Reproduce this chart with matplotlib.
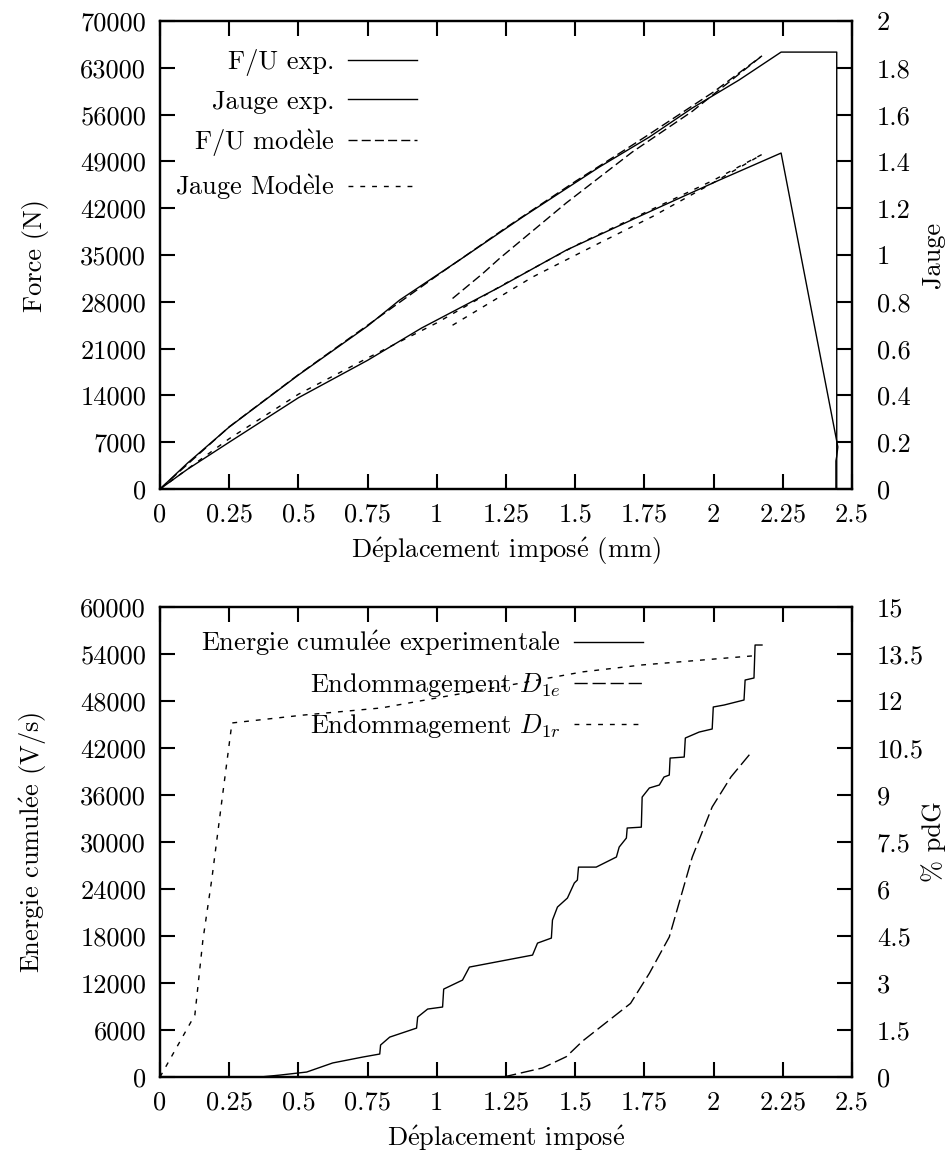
import matplotlib.pyplot as plt
from matplotlib.ticker import FuncFormatter

# --- Essai haut : force et jauge en fonction du deplacement impose ---
fu_exp_x = [0, 0.1, 0.25, 0.5, 0.75, 0.866, 1.082, 1.31, 1.587, 1.768, 1.923, 2.092, 2.244, 2.445, 2.445]
fu_exp_y = [0, 3900, 9270, 17050, 24380, 28270, 34250, 40680, 48160, 52650, 56990, 61180, 65360, 65360, 0]

jauge_exp_x = [0, 0.1, 0.25, 0.5, 0.75, 0.945, 1.227, 1.468, 1.757, 2.02, 2.244, 2.449, 2.445, 2.442, 2.442]
jauge_exp_y = [0, 0.085, 0.20, 0.39, 0.55, 0.688, 0.863, 1.021, 1.179, 1.32, 1.436, 0.18, 0.14, 0.12, 0]

# modele : deux branches (chargement initial, puis rechargement apres 1.06 mm)
fu_mod1_x = [0, 0.25, 0.5, 0.75, 1.0, 1.25, 1.5, 1.75, 2.0, 2.175]
fu_mod1_y = [0, 9300, 17100, 24500, 31900, 39100, 46000, 52600, 59400, 64800]
fu_mod2_x = [1.057, 1.165, 1.227, 1.468, 1.706, 1.923, 2.175]
fu_mod2_y = [28500, 32200, 34500, 42800, 50400, 56500, 64800]

jauge_mod1_x = [0, 0.25, 0.5, 0.75, 1.0, 1.25, 1.5, 1.75, 2.0, 2.175]
jauge_mod1_y = [0, 0.215, 0.405, 0.56, 0.71, 0.88, 1.04, 1.18, 1.32, 1.43]
jauge_mod2_x = [1.057, 1.346, 1.587, 1.78, 2.0, 2.175]
jauge_mod2_y = [0.70, 0.906, 1.051, 1.165, 1.31, 1.43]

# --- Essai bas : energie cumulee et endommagement ---
energie_x = [0, 0.361, 0.433, 0.530, 0.624, 0.732, 0.794, 0.797, 0.830, 0.927, 0.931, 0.967,
             1.021, 1.025, 1.093, 1.118, 1.346, 1.364, 1.414, 1.418, 1.436, 1.472, 1.497,
             1.508, 1.512, 1.576, 1.649, 1.659, 1.685, 1.688, 1.739, 1.742, 1.768, 1.804,
             1.821, 1.840, 1.843, 1.894, 1.898, 1.948, 1.995, 1.999, 2.038, 2.110, 2.114,
             2.146, 2.150, 2.175]
energie_y = [0, 0, 250, 640, 1800, 2550, 2940, 4090, 5100, 6250, 7660, 8680,
             8940, 11230, 12380, 14040, 15570, 17100, 17740, 20040, 21700, 22850, 24770,
             25150, 26800, 26800, 28090, 29360, 30510, 31790, 31900, 35740, 36900, 37280,
             38300, 38550, 40720, 40850, 43280, 44040, 44430, 47240, 47490, 48130, 50680,
             50940, 55150, 55150]

d1e_x = [1.24, 1.382, 1.468, 1.527, 1.70, 1.768, 1.84, 1.923, 1.995, 2.063, 2.14]
d1e_y = [0, 0.29, 0.65, 1.15, 2.35, 3.31, 4.47, 7.02, 8.62, 9.58, 10.4]

d1r_x = [0, 0.126, 0.155, 0.187, 0.224, 0.26, 0.516, 0.80, 1.02, 1.227, 1.527, 1.74, 2.14]
d1r_y = [0, 1.98, 4.37, 6.3, 8.85, 11.3, 11.55, 11.78, 12.13, 12.45, 12.93, 13.15, 13.44]

# graduations
x_ticks = [0, 0.25, 0.5, 0.75, 1, 1.25, 1.5, 1.75, 2, 2.25, 2.5]
force_ticks = [0, 7000, 14000, 21000, 28000, 35000, 42000, 49000, 56000, 63000, 70000]
jauge_ticks = [0, 0.2, 0.4, 0.6, 0.8, 1, 1.2, 1.4, 1.6, 1.8, 2]
energie_ticks = [0, 6000, 12000, 18000, 24000, 30000, 36000, 42000, 48000, 54000, 60000]
pdg_ticks = [0, 1.5, 3, 4.5, 6, 7.5, 9, 10.5, 12, 13.5, 15]

LONG = (0, (6.5, 3))
SHORT = (0, (3.5, 5))
D1E_DASH = (0, (9.5, 3.5))

plt.rcParams["font.family"] = ["cmr10", "DejaVu Serif"]
plt.rcParams["mathtext.fontset"] = "cm"
plt.rcParams["axes.formatter.use_mathtext"] = True
plt.rcParams["font.size"] = 19
plt.rcParams["axes.linewidth"] = 1.6

fmt = FuncFormatter(lambda v, p: f"{v:g}")


def acc(s):
    # accents via mathtext, cmr10 n'a pas les glyphes accentues
    return s.replace("é", r"$\acute{\mathrm{e}}$").replace("è", r"$\grave{\mathrm{e}}$")


def style_axes(ax, ax2):
    ax.tick_params(axis="both", direction="in", length=11, width=1.5, top=True, right=False, pad=10)
    ax2.tick_params(axis="y", direction="in", length=11, width=1.5, pad=18)
    for a in (ax, ax2):
        a.xaxis.set_major_formatter(fmt)
        a.yaxis.set_major_formatter(fmt)


def main():
    fig = plt.figure(figsize=(9.5, 11.58), dpi=100)

    # ---------------- haut ----------------
    ax = fig.add_axes([0.1684, 0.5777, 0.7284, 0.4041])
    ax2 = ax.twinx()
    l1, = ax.plot(fu_exp_x, fu_exp_y, color="black", lw=1.0, label="F/U exp.")
    l3, = ax.plot(fu_mod1_x, fu_mod1_y, color="black", lw=1.0, linestyle=LONG, label=acc("F/U modèle"))
    ax.plot(fu_mod2_x, fu_mod2_y, color="black", lw=1.0, linestyle=LONG)
    l2, = ax2.plot(jauge_exp_x, jauge_exp_y, color="black", lw=1.0, label="Jauge exp.")
    l4, = ax2.plot(jauge_mod1_x, jauge_mod1_y, color="black", lw=1.0, linestyle=SHORT,
                   label=acc("Jauge Modèle"))
    ax2.plot(jauge_mod2_x, jauge_mod2_y, color="black", lw=1.0, linestyle=SHORT)

    ax.set_xlim(0, 2.5)
    ax.set_ylim(0, 70000)
    ax2.set_ylim(0, 2)
    ax.set_xticks(x_ticks)
    ax.set_yticks(force_ticks)
    ax2.set_yticks(jauge_ticks)
    style_axes(ax, ax2)
    ax.set_xlabel(acc("Déplacement imposé (mm)"))
    ax.set_ylabel("Force (N)")
    ax2.set_ylabel("Jauge")
    ax.xaxis.set_label_coords(0.5, -0.1)
    ax.yaxis.set_label_coords(-0.16, 0.5)
    ax2.yaxis.set_label_coords(1.1, 0.5)
    ax2.legend([l1, l2, l3, l4], [h.get_label() for h in (l1, l2, l3, l4)],
               loc="upper right", bbox_to_anchor=(0.371, 0.94), frameon=False,
               markerfirst=False, handlelength=2.6, handletextpad=0.52,
               labelspacing=0.52, borderpad=0, borderaxespad=0)

    # ---------------- bas ----------------
    bx = fig.add_axes([0.1684, 0.0699, 0.7284, 0.4059])
    bx2 = bx.twinx()
    m1, = bx.plot(energie_x, energie_y, color="black", lw=1.0,
                  label=acc("Energie cumulée experimentale"))
    m2, = bx2.plot(d1e_x, d1e_y, color="black", lw=1.0, linestyle=D1E_DASH,
                   label=r"Endommagement $D_{1e}$")
    m3, = bx2.plot(d1r_x, d1r_y, color="black", lw=1.0, linestyle=SHORT,
                   label=r"Endommagement $D_{1r}$")
    bx.set_xlim(0, 2.5)
    bx.set_ylim(0, 60000)
    bx2.set_ylim(0, 15)
    bx.set_xticks(x_ticks)
    bx.set_yticks(energie_ticks)
    bx2.set_yticks(pdg_ticks)
    style_axes(bx, bx2)
    bx.set_xlabel(acc("Déplacement imposé"))
    bx.set_ylabel(acc("Energie cumulée (V/s)"))
    bx2.set_ylabel("% pdG")
    bx.xaxis.set_label_coords(0.5, -0.1)
    bx.yaxis.set_label_coords(-0.16, 0.5)
    bx2.yaxis.set_label_coords(1.1, 0.5)
    bx2.legend([m1, m2, m3], [h.get_label() for h in (m1, m2, m3)],
               loc="upper right", bbox_to_anchor=(0.698, 0.953), frameon=False,
               markerfirst=False, handlelength=2.6, handletextpad=0.52,
               labelspacing=0.48, borderpad=0, borderaxespad=0)

    fig.savefig("out.png", dpi=100)


if __name__ == "__main__":
    main()
